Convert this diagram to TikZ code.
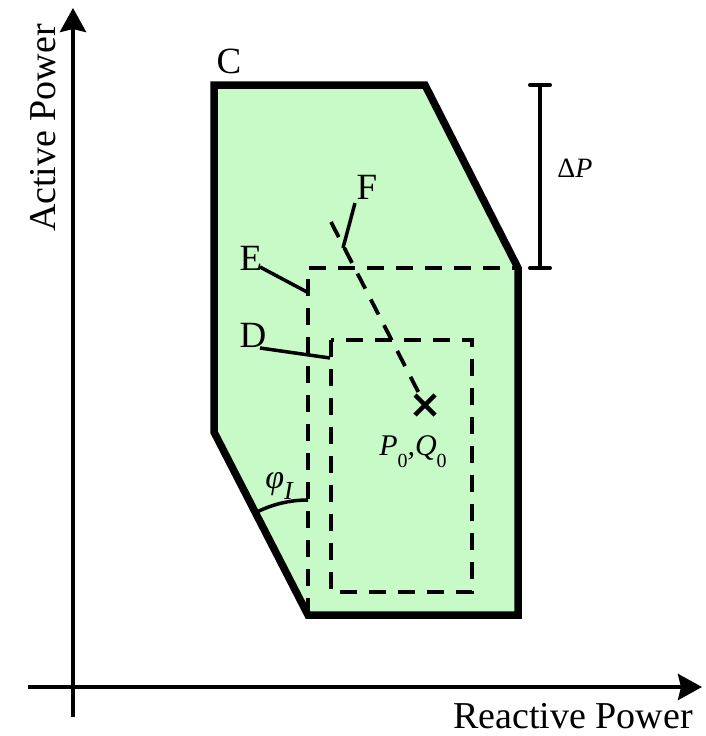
\documentclass[tikz,border=0pt]{standalone}
\usepackage{fontspec}
\setmainfont{Liberation Serif}
\usetikzlibrary{arrows.meta}
\definecolor{regfill}{RGB}{200,250,200}
\begin{document}
\begin{tikzpicture}[x=1pt,y=-1pt,
  axis/.style={line width=4pt,-{Stealth[length=24pt,width=26pt,inset=3pt]}},
  region/.style={line width=7.5pt,line join=miter},
  dashbox/.style={line width=3.8pt,dash pattern=on 17pt off 12pt},
  leader/.style={line width=3.5pt},
  lab/.style={inner sep=0pt,font=\fontsize{37}{40}\selectfont},
  axlab/.style={inner sep=0pt,font=\fontsize{38}{42}\selectfont}]
\useasboundingbox (0,0) rectangle (705,736);
% vertices
\coordinate (c1) at (214,85);
\coordinate (c2) at (425,85);
\coordinate (c3) at (518,268);
\coordinate (c4) at (518,615);
\coordinate (c5) at (308,615);
\coordinate (c6) at (214,432);
% axes
\coordinate (yb) at (73,717);
\coordinate (yt) at (73,8);
\coordinate (xl) at (28,687);
\coordinate (xr) at (702,687);
\draw[axis] (yb) -- (yt);
\draw[axis] (xl) -- (xr);
\node[axlab,rotate=90] (ap) at (43,128) {Active Power};
\node[axlab] (rp) at (573,716) {Reactive Power};
% region
\fill[regfill] (c1) -- (c2) -- (c3) -- (c4) -- (c5) -- (c6) -- cycle;
% dashed boxes
\coordinate (e1) at (308,268);
\coordinate (d1) at (331,340);
\coordinate (d2) at (472,592);
\draw[dashbox] (c5) -- (e1) -- (c3);
\draw[dashbox] (d1) rectangle (d2);
% operating point and dashed ray
\coordinate (op) at (425,405);
\coordinate (ray) at (331,222);
\draw[dashbox] (ray) -- (op);
\draw[line width=4.5pt] ([shift={(-10,-10)}]op) -- ([shift={(10,10)}]op);
\draw[line width=4.5pt] ([shift={(-10,10)}]op) -- ([shift={(10,-10)}]op);
\node[inner sep=0pt,font=\fontsize{30}{32}\selectfont] (pq) at (413,452)
  {\itshape P\raisebox{-0.4em}{\upshape\fontsize{20}{22}\selectfont 0},Q\raisebox{-0.4em}{\upshape\fontsize{20}{22}\selectfont 0}};
% region outline
\draw[region] (c1) -- (c2) -- (c3) -- (c4) -- (c5) -- (c6) -- cycle;
% labels
\node[lab] (C) at (229,61) {C};
\node[lab] (E) at (251,258) {E};
\node[lab] (D) at (253,335) {D};
\node[lab] (F) at (367,187) {F};
\coordinate (Ee) at (307,292);
\coordinate (De) at (330,358);
\coordinate (Fe) at (343,248);
\draw[leader] ([shift={(9,9)}]E.center) -- (Ee);
\draw[leader] ([shift={(7,13)}]D.center) -- (De);
\draw[leader] ([shift={(-12,16)}]F.center) -- (Fe);
% angle
\draw[leader] (c5) ++(117.2:115pt) arc[start angle=117.2,end angle=90,radius=115pt];
\node[inner sep=0pt,font=\fontsize{34}{36}\selectfont] (phi) at (279,486)
  {\itshape φ\raisebox{-0.3em}{\fontsize{26}{28}\selectfont I}};
% Delta P
\coordinate (dpt) at (540,85);
\coordinate (dpb) at (540,268);
\draw[line width=4pt] (dpt) -- (dpb);
\draw[line width=4pt,line cap=round] ([xshift=-10]dpt) -- ([xshift=10]dpt);
\draw[line width=4pt,line cap=round] ([xshift=-10]dpb) -- ([xshift=10]dpb);
\node[inner sep=0pt,font=\fontsize{28}{30}\selectfont] (dp) at (575,168) {Δ\textit{P}};
\end{tikzpicture}
\end{document}
